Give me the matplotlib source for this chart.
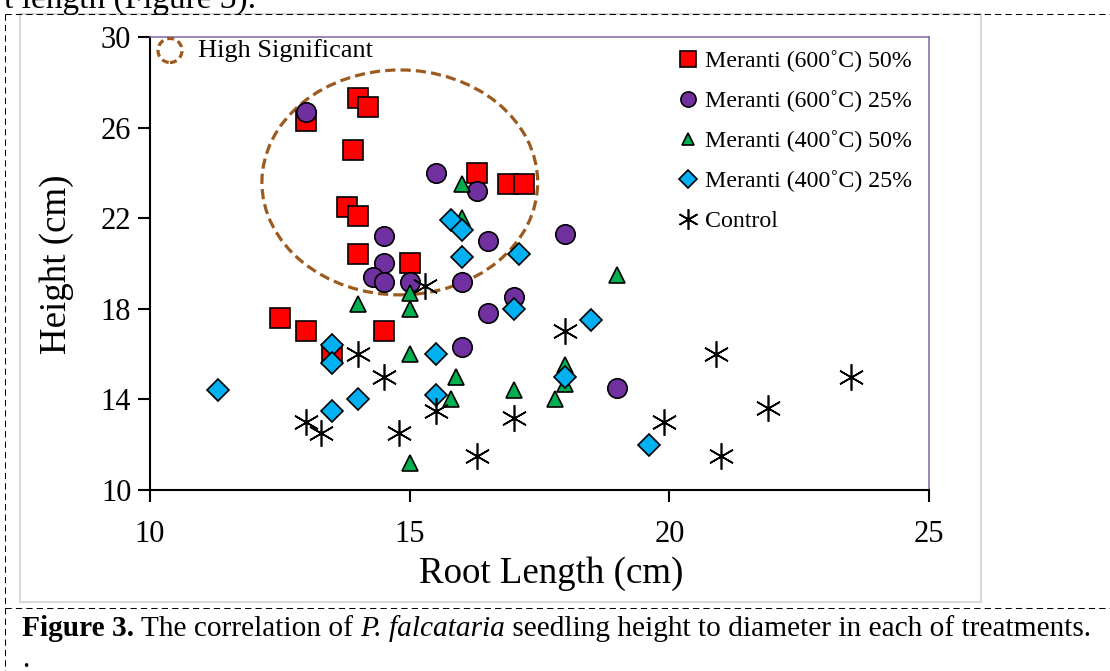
import matplotlib
matplotlib.use("Agg")
import matplotlib.pyplot as plt
from matplotlib.patches import Ellipse, Rectangle
from matplotlib.lines import Line2D

# ============================= Data =============================
m600_50_x = [13.0, 14.0, 14.2, 13.9, 16.3, 16.9, 17.2, 13.8, 14.0, 14.0, 15.0, 12.5, 13.0, 14.5, 13.5]
m600_50_y = [26.3, 27.3, 26.9, 25.0, 24.0, 23.5, 23.5, 22.5, 22.1, 20.4, 20.0, 17.6, 17.0, 17.0, 16.0]

m600_25_x = [13.0, 15.5, 16.3, 16.5, 14.5, 18.0, 14.5, 14.3, 14.5, 15.0, 16.0, 17.0, 16.5, 16.0, 19.0]
m600_25_y = [26.7, 24.0, 23.2, 21.0, 21.2, 21.3, 20.0, 19.4, 19.2, 19.2, 19.2, 18.5, 17.8, 16.3, 14.5]

m400_50_x = [16.0, 16.0, 15.0, 14.0, 15.0, 19.0, 15.0, 15.9, 18.0, 18.0, 17.0, 15.8, 17.8, 15.0]
m400_50_y = [23.5, 22.0, 18.7, 18.2, 18.0, 19.5, 16.0, 15.0, 15.5, 14.7, 14.4, 14.0, 14.0, 11.2]

m400_25_x = [15.8, 16.0, 16.0, 17.1, 17.0, 18.5, 13.5, 13.5, 15.5, 18.0, 11.3, 15.5, 14.0, 13.5, 19.6]
m400_25_y = [21.9, 21.5, 20.3, 20.4, 18.0, 17.5, 16.4, 15.6, 16.0, 15.0, 14.4, 14.2, 14.0, 13.5, 12.0]

control_x = [15.3, 18.0, 14.0, 20.9, 14.5, 23.5, 21.9, 15.5, 17.0, 13.0, 19.9, 13.3, 14.8, 16.3, 21.0]
control_y = [19.0, 17.0, 16.0, 16.0, 15.0, 15.0, 13.6, 13.5, 13.2, 13.0, 13.0, 12.5, 12.5, 11.5, 11.5]

# the "high significant" ring: centre, width, height in data units
ring = (14.81, 23.58, 5.31, 9.93)

xticks = [10, 15, 20, 25]
yticks = [10, 14, 18, 22, 26, 30]

# ============================= Figure =============================
W, H = 1110, 671
serif = 'Liberation Serif'
brown = '#9C5A1E'

fig = plt.figure(figsize=(W / 100, H / 100), dpi=100)
fig.patch.set_facecolor('white')


def fx(px):
    return px / W


def fy(py):
    return 1 - py / H


# page decorations (dashed text frame, grey chart frame)
dash = dict(transform=fig.transFigure, color='black', lw=0.75, linestyle=(0, (6, 4)))
fig.add_artist(Line2D([fx(5), 1], [fy(13.5), fy(13.5)], **dash))
fig.add_artist(Line2D([fx(5), 1], [fy(607.5), fy(607.5)], **dash))
fig.add_artist(Line2D([fx(5), fx(5)], [fy(13.5), 0], **dash))
fig.add_artist(Rectangle((fx(20), fy(602)), fx(981) - fx(20), fy(14) - fy(602),
                         transform=fig.transFigure, fill=False, ec='#D9D9D9', lw=1.5))

ax = fig.add_axes([fx(150), fy(490), fx(929) - fx(150), fy(37) - fy(490)])

ax.plot(m600_50_x, m600_50_y, 's', ms=14.5, mfc='#FF0000', mec='black', mew=1.2,
        label='Meranti (600˚C) 50%')
ax.plot(m600_25_x, m600_25_y, 'o', ms=14, mfc='#7030A0', mec='black', mew=1.2,
        label='Meranti (600˚C) 25%')
ax.plot(m400_50_x, m400_50_y, '^', ms=11.5, mfc='#00B050', mec='black', mew=1.2,
        label='Meranti (400˚C) 50%')
ax.plot(m400_25_x, m400_25_y, 'D', ms=11.5, mfc='#00B0F0', mec='black', mew=1.2,
        label='Meranti (400˚C) 25%')
ax.plot(control_x, control_y, ls='none', marker=(6, 2, 0), ms=19, mec='black', mew=1.2,
        label='Control')

ax.add_patch(Ellipse(ring[:2], ring[2], ring[3], fill=False, ec=brown, lw=2.3,
                     linestyle=(0, (3.2, 1.6))))

ax.set_xlim(10, 25)
ax.set_ylim(10, 30)
ax.set_xticks(xticks)
ax.set_yticks(yticks)

for s in ['left', 'bottom']:
    ax.spines[s].set_color('black')
    ax.spines[s].set_linewidth(1.5)
for s in ['top', 'right']:
    ax.spines[s].set_color('#8064A2')
    ax.spines[s].set_linewidth(1.1)

ax.tick_params(direction='out', length=8.5, width=1.5, labelsize=22, colors='black')
ax.tick_params(axis='x', pad=13)
ax.tick_params(axis='y', pad=5)
for lab in ax.get_xticklabels() + ax.get_yticklabels():
    lab.set_fontfamily(serif)

ax.set_xlabel('Root Length (cm)', fontsize=26.6, family=serif, va='center')
ax.xaxis.set_label_coords((551.5 - 150) / 779, (490 - 574) / 453)
ax.set_ylabel('Height (cm)', fontsize=26.6, family=serif, va='center')
ax.yaxis.set_label_coords((57 - 150) / 779, (490 - 264) / 453)

leg = ax.legend(loc='upper left', bbox_to_anchor=((680 - 150) / 779, (490 - 50) / 453),
                frameon=False, prop={'family': serif, 'size': 17.2}, markerscale=0.78,
                handlelength=0.7, handletextpad=0.35, labelspacing=0.76, borderpad=0,
                borderaxespad=0)

# "High Significant" key
fig.add_artist(Ellipse((fx(170), fy(50.5)), 24 / W, 24 / H, transform=fig.transFigure,
                       fill=False, ec=brown, lw=2.3, linestyle=(0, (2.2, 1.3))))
fig.text(fx(198), fy(51), 'High Significant', fontsize=19, family=serif, va='center')

# surrounding document text
fig.text(fx(256), fy(8), 't length (Figure 3).', fontsize=24, family=serif,
         va='baseline', ha='right')

renderer = fig.canvas.get_renderer()
pieces = [('Figure 3.', dict(weight='bold')),
          (' The correlation of ', {}),
          ('P. falcataria', dict(style='italic')),
          (' seedling height to diameter in each of treatments.', {})]
x = 22
for txt, kw in pieces:
    t = fig.text(fx(x), fy(636), txt, fontsize=21.2, family=serif, va='baseline', **kw)
    x += t.get_window_extent(renderer).width
fig.text(fx(22), fy(667), '.', fontsize=21.2, family=serif, va='baseline')

fig.savefig('out.png', dpi=100)
